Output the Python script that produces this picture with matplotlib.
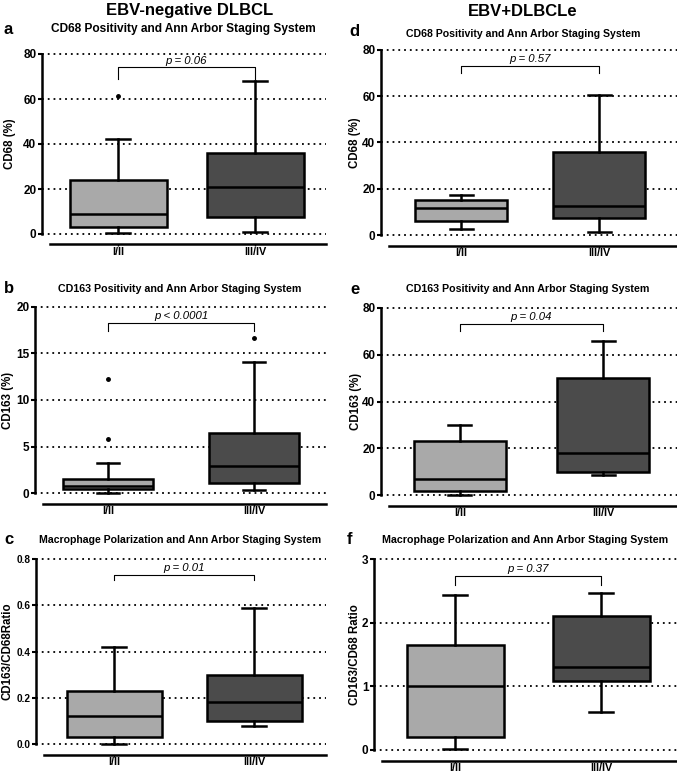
import matplotlib
matplotlib.use("Agg")
import matplotlib.pyplot as plt

plt.rcParams['font.family'] = ['Liberation Sans', 'DejaVu Sans']

W, H = 677, 773

groups = ["I/II", "III/IV"]

# five-number summaries: (whislo, q1, med, q3, whishi)
a_stats = [(0.5, 3.0, 9.0, 24.0, 42.0), (1.0, 7.5, 21.0, 36.0, 68.0)]
a_fliers = [[61.5], []]
b_stats = [(0.0, 0.4, 0.7, 1.5, 3.2), (0.3, 1.1, 2.85, 6.4, 14.1)]
b_fliers = [[5.8, 12.3], [16.7]]
c_stats = [(0.0, 0.03, 0.12, 0.23, 0.42), (0.08, 0.10, 0.18, 0.30, 0.59)]
c_fliers = [[], []]
d_stats = [(2.5, 6.0, 11.5, 15.0, 17.5), (1.5, 7.5, 12.5, 36.0, 60.5)]
d_fliers = [[], []]
e_stats = [(0.2, 1.5, 7.0, 23.0, 30.0), (8.5, 10.0, 18.0, 50.0, 66.0)]
e_fliers = [[], []]
f_stats = [(0.02, 0.2, 1.0, 1.65, 2.43), (0.6, 1.08, 1.3, 2.1, 2.46)]
f_fliers = [[], []]

p_values = {"a": "p = 0.06", "b": "p < 0.0001", "c": "p = 0.01",
            "d": "p = 0.57", "e": "p = 0.04", "f": "p = 0.37"}

fig = plt.figure(figsize=(W / 100, H / 100), dpi=100)


def panel(letter, stats, fliers, yticks, ylabel, title, pvalue, bracket,
          xl, xr, ytop, ybot, c1, c2, boxpx, letter_xy, title_xy, title_fs, ylab_x,
          ytick_fs=8.5):
    ymax = yticks[-1]
    pad = 0.012 * ymax
    pix_per_unit = (ybot - ytop) / ymax
    # axes extents in pixels (small pad so the edge gridlines are not cut)
    top_px = ytop - pad * pix_per_unit
    bot_px = ybot + pad * pix_per_unit
    unit = c2 - c1
    x0 = 1 - (c1 - xl) / unit
    x1 = 2 + (xr - c2) / unit
    ax = fig.add_axes([xl / W, 1 - bot_px / H, (xr - xl) / W, (bot_px - top_px) / H])
    ax.set_xlim(x0, x1)
    ax.set_ylim(-pad, ymax + pad)

    bxp = []
    for s, fl, lab in zip(stats, fliers, groups):
        lo, q1, med, q3, hi = s
        bxp.append(dict(whislo=lo, q1=q1, med=med, q3=q3, whishi=hi,
                        fliers=fl, label=lab))
    res = ax.bxp(bxp, positions=[1, 2], widths=boxpx / unit, patch_artist=True,
                 showfliers=True,
                 boxprops=dict(linewidth=1.8, edgecolor='black'),
                 medianprops=dict(color='black', linewidth=1.8),
                 whiskerprops=dict(color='black', linewidth=1.8),
                 capprops=dict(color='black', linewidth=1.8),
                 capwidths=0.25 * boxpx / unit,
                 flierprops=dict(marker='o', markersize=2.5, markerfacecolor='black',
                                 markeredgecolor='black'))
    for patch, col in zip(res['boxes'], ['#a9a9a9', '#4b4b4b']):
        patch.set_facecolor(col)

    for t in yticks:
        ax.axhline(t, color='black', linestyle=(0, (1, 2.2)), linewidth=1.3, zorder=0)

    for side in ['top', 'right']:
        ax.spines[side].set_visible(False)
    ax.spines['left'].set_linewidth(1.8)
    ax.spines['left'].set_bounds(0, ymax)
    ax.spines['bottom'].set_position(('outward', 6))
    ax.spines['bottom'].set_linewidth(1.8)
    ax.spines['bottom'].set_bounds(x0 + 8 / unit, x1)

    ax.set_yticks(yticks)
    ax.set_yticklabels([f"{t:g}" if ymax >= 1 else f"{t:.1f}" for t in yticks])
    ax.tick_params(axis='y', length=3, width=1.5, pad=1, labelsize=ytick_fs)
    ax.tick_params(axis='x', length=1.5, width=1, pad=0.3, labelsize=7.8)
    for lab in ax.get_xticklabels() + ax.get_yticklabels():
        lab.set_fontweight('bold')
    ax.set_ylabel(ylabel, fontsize=8.3, fontweight='bold', va='center')
    ax.yaxis.set_label_coords((ylab_x - xl) / (xr - xl), 0.5)

    btop, bleg = bracket
    ax.plot([1, 1, 2, 2], [bleg, btop, btop, bleg], color='black', linewidth=0.8)
    ax.text(1.5, btop + 0.01 * ymax, pvalue, ha='center', va='bottom',
            fontsize=8.2, fontstyle='italic')

    fig.text(letter_xy[0] / W, 1 - letter_xy[1] / H, letter, fontsize=12,
             fontweight='bold', ha='left', va='center')
    fig.text(title_xy[0] / W, 1 - title_xy[1] / H, title, fontsize=title_fs,
             fontweight='bold', ha='center', va='center')
    return ax


t68 = "CD68 Positivity and Ann Arbor Staging System"
t163 = "CD163 Positivity and Ann Arbor Staging System"
tmac = "Macrophage Polarization and Ann Arbor Staging System"

panel("a", a_stats, a_fliers, [0, 20, 40, 60, 80], "CD68 (%)", t68, p_values["a"],
      (74, 69), 42, 326, 54, 234, 118, 255, 97, (4, 29), (183, 29), 8.6, 10)
panel("b", b_stats, b_fliers, [0, 5, 10, 15, 20], "CD163 (%)", t163, p_values["b"],
      (18.3, 17.4), 35, 326, 307, 493, 108, 254, 90, (4, 288), (180, 289), 7.7, 8)
panel("c", c_stats, c_fliers, [0.0, 0.2, 0.4, 0.6, 0.8], "CD163/CD68Ratio", tmac,
      p_values["c"], (0.73, 0.71), 36, 326, 559, 744, 114, 254, 95, (4, 540), (180, 540),
      7.6, 8, ytick_fs=7.2)
panel("d", d_stats, d_fliers, [0, 20, 40, 60, 80], "CD68 (%)", t68, p_values["d"],
      (73, 70), 381, 677, 50, 235, 461, 599, 92, (349, 31), (523, 34), 7.6, 355)
panel("e", e_stats, e_fliers, [0, 20, 40, 60, 80], "CD163 (%)", t163, p_values["e"],
      (73, 70), 381, 677, 308, 495, 460, 603, 92, (350, 290), (528, 289), 7.7, 356)
panel("f", f_stats, f_fliers, [0, 1, 2, 3], "CD163/CD68 Ratio", tmac, p_values["f"],
      (2.74, 2.59), 374, 677, 559, 750, 455, 601, 97, (347, 540), (525, 540), 7.7, 355)

fig.text(190 / W, 1 - 11 / H, "EBV-negative DLBCL", fontsize=12, fontweight='bold',
         ha='center', va='center')
fig.text(523 / W, 1 - 12 / H, "EBV+DLBCLe", fontsize=12, fontweight='bold',
         ha='center', va='center')

fig.savefig("out.png", dpi=100)
